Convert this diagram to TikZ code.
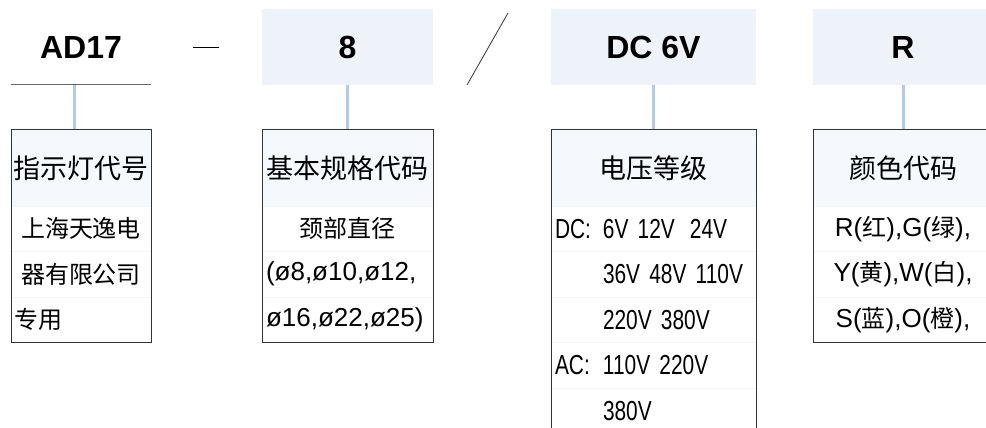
\documentclass[tikz,border=0pt]{standalone}
\usepackage{fontspec}
\setmainfont{Liberation Sans}
\newfontfamily\cjk{Noto Sans CJK SC}
\newfontfamily\voltfont[FakeStretch=0.76]{Liberation Sans}
\newcommand\zh[1]{{\cjk\fontsize{24}{30}\selectfont #1}}
\newcommand\voltsize{\voltfont\fontsize{27.5}{30}\selectfont\spaceskip=4pt\relax}
\usetikzlibrary{positioning}
\definecolor{codefill}{HTML}{EEF3FA}
\definecolor{headfill}{HTML}{F5F9FD}
\definecolor{linkblue}{HTML}{B3CBE9}
\definecolor{framegray}{HTML}{333333}
\definecolor{rulegray}{HTML}{666666}
\definecolor{rowline}{HTML}{F3F5F7}
\tikzset{
  codebox/.style={minimum height=76pt, inner sep=0pt, outer sep=0pt, fill=codefill,
                  font=\bfseries\fontsize{32}{36}\selectfont},
  headcell/.style={minimum height=76pt, inner sep=0pt, outer sep=0pt, fill=headfill,
                   font=\cjk\fontsize{27}{30}\selectfont},
  rowcell/.style={minimum height=45.5pt, inner xsep=4pt, inner ysep=0pt, outer sep=0pt,
                  draw=rowline, line width=.6pt, font=\fontsize{26}{30}\selectfont},
  voltcell/.style={rowcell, text width=197pt, align=left, font=\voltsize},
  frame/.style={draw=framegray, line width=1pt},
  link/.style={draw=linkblue, line width=3pt},
  stroke/.style={draw=rulegray, line width=1pt}
}

\begin{document}
\begin{tikzpicture}[x=1pt, y=1pt]
  \useasboundingbox (0,0) rectangle (986,428);
  \clip (0,0) rectangle (986,428);

  % code parts
  \node[codebox, fill=none, minimum width=140pt] (ad) at (81,381) {AD17};
  \node[codebox, minimum width=171pt] (size) at (347.5,381) {8};
  \node[codebox, minimum width=205pt] (volt) at (653.5,381) {DC 6V};
  \node[codebox, minimum width=180pt] (color) at (903,381) {R};

  \coordinate (dashl) at (193,381);
  \coordinate (dashr) at (219,381);
  \coordinate (slashlow) at (467,343);
  \coordinate (slashhigh) at (508,415);

  % lamp code
  \node[headcell, minimum width=140pt, below=45pt of ad] (adhead) {指示灯代号};
  \node[rowcell, text width=132pt, align=center, below=0pt of adhead] (ad1) {\zh{上海天逸电}};
  \node[rowcell, text width=132pt, align=center, below=0pt of ad1] (ad2) {\zh{器有限公司}};
  \node[rowcell, text width=132pt, align=left, below=0pt of ad2] (ad3) {\zh{专用}};

  % size
  \node[headcell, minimum width=171pt, below=45pt of size] (sizehead) {基本规格代码};
  \node[rowcell, text width=163pt, align=center, below=0pt of sizehead] (size1) {\zh{颈部直径}};
  \node[rowcell, text width=163pt, align=left, below=0pt of size1] (size2) {(ø8,ø10,ø12,};
  \node[rowcell, text width=163pt, align=left, below=0pt of size2] (size3) {ø16,ø22,ø25)};

  % voltage
  \node[headcell, minimum width=205pt, below=45pt of volt] (volthead) {电压等级};
  \node[voltcell, below=0pt of volthead] (volt1) {\makebox[48pt][l]{DC:}6V 12V\hspace{15pt}24V};
  \node[voltcell, below=0pt of volt1] (volt2) {\hspace*{48pt}36V 48V 110V};
  \node[voltcell, below=0pt of volt2] (volt3) {\hspace*{48pt}220V 380V};
  \node[voltcell, below=0pt of volt3] (volt4) {\makebox[48pt][l]{AC:}110V 220V};
  \node[voltcell, below=0pt of volt4] (volt5) {\hspace*{48pt}380V};

  % colour
  \node[headcell, minimum width=180pt, below=45pt of color] (colorhead) {颜色代码};
  \node[rowcell, text width=172pt, align=center, below=0pt of colorhead] (color1) {R(\zh{红}),G(\zh{绿}),};
  \node[rowcell, text width=172pt, align=center, below=0pt of color1] (color2) {Y(\zh{黄}),W(\zh{白}),};
  \node[rowcell, text width=172pt, align=center, below=0pt of color2] (color3) {S(\zh{蓝}),O(\zh{橙}),};

  \draw[link] ([xshift=-7pt]ad.south) -- ([xshift=-7pt]adhead.north);
  \draw[link] (size.south) -- (sizehead.north);
  \draw[link] (volt.south) -- (volthead.north);
  \draw[link] (color.south) -- (colorhead.north);

  \draw[frame] (adhead.north west) rectangle (ad3.south east);
  \draw[frame] (sizehead.north west) rectangle (size3.south east);
  \draw[frame] (volthead.north west) rectangle (volt5.south east);
  \draw[frame] (colorhead.north west) rectangle (color3.south east);

  \draw[stroke] (ad.south west) -- (ad.south east);
  \draw[draw=black, line width=.8pt] (dashl) -- (dashr);
  \draw[draw=black!80, line width=.8pt] (slashlow) -- (slashhigh);
\end{tikzpicture}
\end{document}
